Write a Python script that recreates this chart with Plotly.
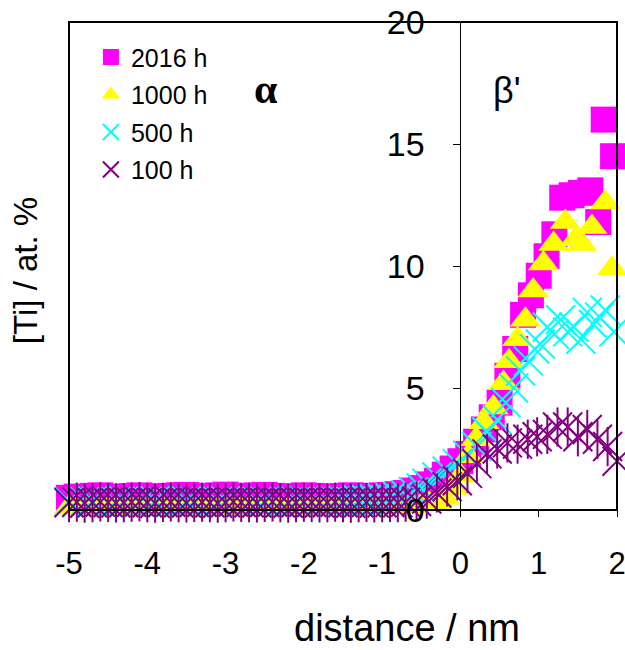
import plotly.graph_objects as go

# ---------------- data ----------------
flat_distance = [-5.0, -4.9, -4.8, -4.7, -4.6, -4.5, -4.4, -4.3, -4.2, -4.1,
                 -4.0, -3.9, -3.8, -3.7, -3.6, -3.5, -3.4, -3.3, -3.2, -3.1,
                 -3.0, -2.9, -2.8, -2.7, -2.6, -2.5, -2.4, -2.3, -2.2, -2.1,
                 -2.0, -1.9, -1.8, -1.7, -1.6, -1.5, -1.4, -1.3, -1.2, -1.1,
                 -1.0, -0.9, -0.8, -0.7]

ti_2016_flat = [0.50, 0.55, 0.52, 0.58, 0.60, 0.55, 0.50, 0.53, 0.57, 0.60,
                0.56, 0.52, 0.55, 0.58, 0.60, 0.62, 0.57, 0.54, 0.55, 0.60,
                0.63, 0.58, 0.55, 0.57, 0.60, 0.62, 0.58, 0.55, 0.53, 0.56,
                0.60, 0.58, 0.55, 0.52, 0.55, 0.57, 0.60, 0.58, 0.55, 0.57,
                0.60, 0.62, 0.65, 0.70]
ti_1000_flat = [0.10, 0.12, 0.08, 0.10, 0.14, 0.10, 0.07, 0.10, 0.12, 0.10,
                0.09, 0.11, 0.13, 0.10, 0.08, 0.10, 0.12, 0.11, 0.09, 0.10,
                0.12, 0.10, 0.08, 0.10, 0.11, 0.13, 0.10, 0.09, 0.10, 0.12,
                0.10, 0.08, 0.10, 0.11, 0.10, 0.12, 0.10, 0.09, 0.11, 0.10,
                0.12, 0.11, 0.13, 0.14]
ti_500_flat = [0.35, 0.30, 0.33, 0.36, 0.32, 0.30, 0.34, 0.37, 0.33, 0.31,
               0.35, 0.38, 0.34, 0.30, 0.33, 0.36, 0.35, 0.32, 0.30, 0.34,
               0.37, 0.35, 0.33, 0.31, 0.34, 0.36, 0.33, 0.30, 0.32, 0.35,
               0.37, 0.34, 0.32, 0.35, 0.36, 0.38, 0.35, 0.40, 0.42, 0.45,
               0.48, 0.50, 0.55, 0.62]
ti_100_flat = [0.30, 0.32, 0.28, 0.30, 0.33, 0.31, 0.29, 0.30, 0.32, 0.34,
               0.30, 0.28, 0.31, 0.33, 0.30, 0.29, 0.31, 0.32, 0.30, 0.28,
               0.30, 0.33, 0.31, 0.30, 0.29, 0.31, 0.33, 0.30, 0.28, 0.30,
               0.32, 0.31, 0.29, 0.30, 0.32, 0.30, 0.28, 0.30, 0.31, 0.29,
               0.30, 0.31, 0.30, 0.32]

dist_2016_rise = [-0.6, -0.5, -0.4, -0.3, -0.2, -0.1, 0.0, 0.1, 0.2, 0.3, 0.4, 0.5, 0.6,
                  0.7, 0.8, 0.9, 1.0, 1.1, 1.2, 1.3, 1.42, 1.54, 1.66, 1.76, 1.83, 1.95]
ti_2016_rise = [0.8, 0.9, 1.05, 1.2, 1.45, 1.7, 2.0, 2.3, 2.8, 3.3, 3.8, 4.4, 5.5,
                6.6, 8.0, 8.8, 9.6, 10.4, 11.3, 12.8, 12.9, 13.0, 13.1, 11.8, 16.0, 14.5]

dist_1000_rise = [-0.6, -0.5, -0.4, -0.3, -0.2, -0.1, 0.0, 0.1, 0.2, 0.3, 0.42, 0.55,
                  0.62, 0.73, 0.83, 0.93, 1.06, 1.19, 1.34, 1.47, 1.55, 1.68, 1.85, 1.94]
ti_1000_rise = [0.15, 0.2, 0.25, 0.3, 0.5, 0.9, 1.4, 2.2, 2.9, 3.6, 4.2, 5.2,
                6.1, 7.0, 7.8, 9.0, 10.1, 10.9, 11.8, 11.1, 10.9, 11.6, 12.6, 9.9]

dist_500_rise = [-0.6, -0.5, -0.43, -0.3, -0.17, -0.04, 0.09, 0.21, 0.34, 0.47, 0.58,
                 0.68, 0.77, 0.87, 0.95, 1.02, 1.11, 1.2, 1.28, 1.37, 1.45, 1.54,
                 1.62, 1.7, 1.78, 1.85, 1.96]
ti_500_rise = [0.75, 0.9, 1.1, 1.35, 1.6, 1.9, 2.25, 2.6, 3.2, 3.7, 4.4,
               5.0, 5.7, 6.1, 6.6, 6.8, 7.5, 7.2, 7.8, 7.3, 7.5, 7.0,
               8.1, 7.6, 7.9, 8.2, 7.3]

dist_100_rise = [-0.56, -0.43, -0.3, -0.17, -0.04, 0.09, 0.21, 0.34, 0.47, 0.6, 0.73,
                 0.86, 0.98, 1.11, 1.24, 1.37, 1.5, 1.62, 1.75, 1.88, 2.0]
ti_100_rise = [0.35, 0.45, 0.7, 0.95, 1.2, 1.5, 1.9, 2.3, 2.5, 2.75, 2.7,
               2.9, 3.0, 3.1, 3.4, 3.4, 3.0, 3.3, 2.9, 2.6, 2.0]

series_names = ["2016 h", "1000 h", "500 h", "100 h"]
x_ticks = [-5, -4, -3, -2, -1, 0, 1, 2]
y_ticks = [0, 5, 10, 15, 20]

FONT = "Liberation Sans, Arial, sans-serif"
PURPLE = "#800080"
CYAN = "#00FFFF"

fig = go.Figure()

fig.add_trace(go.Scatter(
    x=flat_distance + dist_2016_rise, y=ti_2016_flat + ti_2016_rise,
    mode="markers", name=series_names[0], legendgroup="g1",
    marker=dict(symbol="square", size=26, color="#FF00FF", line=dict(width=0)),
    cliponaxis=False))
fig.add_trace(go.Scatter(
    x=flat_distance + dist_1000_rise, y=ti_1000_flat + ti_1000_rise,
    mode="markers", name=series_names[1], legendgroup="g2",
    marker=dict(symbol="triangle-up", size=27, color="#FFFF00", line=dict(width=0)),
    cliponaxis=False))
fig.add_trace(go.Scatter(
    x=flat_distance + dist_500_rise, y=ti_500_flat + ti_500_rise,
    mode="markers", name=series_names[2], legendgroup="g3",
    marker=dict(symbol="x-thin-open", size=29, color=CYAN,
                line=dict(width=2, color=CYAN)),
    cliponaxis=False))
# 100 h: Excel-style star marker = "x" plus a vertical stroke
fig.add_trace(go.Scatter(
    x=flat_distance + dist_100_rise, y=ti_100_flat + ti_100_rise,
    mode="markers", name=series_names[3], legendgroup="g4",
    marker=dict(symbol="x-thin", size=29, color=PURPLE,
                line=dict(width=2, color=PURPLE)),
    cliponaxis=False))
fig.add_trace(go.Scatter(
    x=flat_distance + dist_100_rise, y=ti_100_flat + ti_100_rise,
    mode="markers", name=series_names[3], legendgroup="g4", showlegend=False,
    marker=dict(symbol="line-ns-open", size=28, color=PURPLE,
                line=dict(width=2, color=PURPLE)),
    hoverinfo="skip", cliponaxis=False))

fig.update_layout(
    width=625, height=650,
    margin=dict(l=69, r=8, t=22, b=140, autoexpand=False),
    paper_bgcolor="white", plot_bgcolor="white",
    font=dict(family=FONT, color="black"),
    showlegend=True,
    legend=dict(x=0.04, y=0.975, xanchor="left", yanchor="top",
                bgcolor="rgba(0,0,0,0)", font=dict(size=25, family=FONT),
                tracegroupgap=2, itemclick=False, itemdoubleclick=False),
    xaxis=dict(range=[-5, 2], tickvals=x_ticks,
               ticktext=[str(v) for v in x_ticks], automargin=False,
               showgrid=False, zeroline=False, showline=False,
               ticks="outside", ticklen=6, tickwidth=1, tickcolor="black",
               ticklabeloverflow="allow",
               tickfont=dict(size=31, family=FONT), ticklabelstandoff=20),
    yaxis=dict(range=[0, 20], tickvals=y_ticks, ticktext=[str(v) for v in y_ticks],
               anchor="free", position=5 / 7, automargin=False,
               showgrid=False, zeroline=False, showline=True,
               linecolor="black", linewidth=1,
               ticks="outside", ticklen=7, tickwidth=1, tickcolor="black",
               ticklabeloverflow="allow",
               tickfont=dict(size=34, family=FONT), ticklabelstandoff=22),
    shapes=[dict(type="rect", xref="paper", yref="paper", x0=0, x1=1, y0=0, y1=1,
                 line=dict(color="black", width=2), fillcolor="rgba(0,0,0,0)",
                 layer="above")],
    annotations=[
        dict(text="[Ti] / at. %", xref="paper", yref="paper", x=-0.078, y=0.49,
             xanchor="center", yanchor="middle", textangle=-90, showarrow=False,
             font=dict(size=33, family=FONT)),
        dict(text="distance / nm", xref="paper", yref="paper", x=0.617, y=-0.242,
             xanchor="center", yanchor="middle", showarrow=False,
             font=dict(size=38, family=FONT)),
        dict(text="<b>α</b>", xref="paper", yref="paper", x=0.36, y=0.862,
             xanchor="center", yanchor="middle", showarrow=False,
             font=dict(size=42, family="Liberation Serif, Times New Roman, serif")),
        dict(text="β'", xref="paper", yref="paper", x=0.8, y=0.86,
             xanchor="center", yanchor="middle", showarrow=False,
             font=dict(size=36, family=FONT)),
    ],
)

fig.write_html("out.html")
